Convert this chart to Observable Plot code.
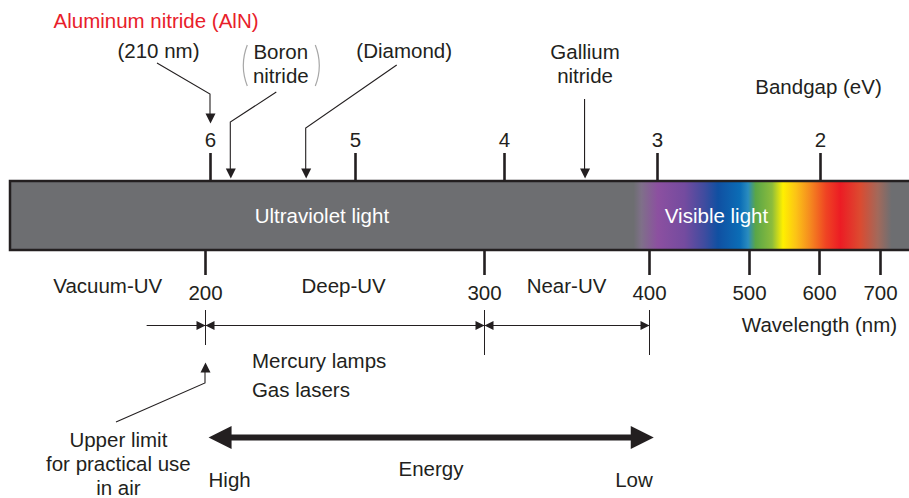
<!DOCTYPE html>
<html>
<head>
<meta charset="utf-8">
<script src="https://cdn.jsdelivr.net/npm/d3@7"></script>
<script src="https://cdn.jsdelivr.net/npm/@observablehq/plot@0.6"></script>
<style>
  html, body { margin: 0; padding: 0; background: #ffffff; }
  #chart svg { display: block; }
</style>
</head>
<body>
<div id="chart"></div>
<script>
// ---------------- data ----------------
const bandgapTicks = [6, 5, 4, 3, 2];                    // eV (top axis)
const wavelengthTicks = [200, 300, 400, 500, 600, 700];  // nm (bottom axis)

const alnTitle = "Aluminum nitride (AlN)";
const materialNames = ["(210 nm)", "Boron\nnitride", "(Diamond)", "Gallium\nnitride"];
const materialBandgapEV = [6.0, 5.86, 5.34, 3.5];        // where each arrow points (eV, as drawn)

const uvRegionNames = ["Vacuum-UV", "Deep-UV", "Near-UV"];
const uvRegionLabelNm = [153, 244, 343];
const uvBoundaryNm = [200, 300, 400];
const vacuumUVStartNm = 169;

const bandNames = ["Ultraviolet light", "Visible light"];
const bandLabelNm = [237, 465];
const bandExtentNm = [124, 750];

const spectrumStopNm = [388, 394, 414, 436, 454, 467, 490, 499, 508, 529, 544, 563, 585, 627, 645, 671, 697, 718];
const spectrumStopColor = ["#6d6e71", "#7f7089", "#8c50a0", "#744b9f", "#3f4c9f", "#1050a2", "#0b6db6", "#2a8cbf",
  "#5aa647", "#8cbc3c", "#fff000", "#fcc316", "#f58a1f", "#ef4423", "#ec1c24", "#dc4a30", "#a2695b", "#6d6e71"];

const sourceNotes = ["Mercury lamps", "Gas lasers"];
const sourceNoteNm = 217;

const upperLimitText = "Upper limit\nfor practical use\nin air";
const upperLimitNm = 200;
const upperLimitLabelNm = 157;

const energyArrowNm = [204, 407];
const energyLabels = ["High", "Energy", "Low"];
const energyLabelNm = [204, 276, 407];

const axisTitles = ["Bandgap (eV)", "Wavelength (nm)"];

// ---------------- helpers / layout ----------------
const eV = nm => 1240 / nm;
const INK = "#231f20";
const RED = "#e8202a";

// schematic (piecewise) horizontal scale in photon energy, anchored at the labelled ticks
const scaleStops = [
  [10, 10], [eV(200), 205], [6, 210], [5, 355], [eV(300), 484], [4, 504],
  [eV(400), 649], [3, 657], [eV(500), 749], [eV(600), 819], [2, 820], [eV(700), 880]
];

const Y = {
  title: 27.5, matLabel: [57.5, 82, 57.5, 82], bandgapTitle: 93,
  topTickLabel: 146, topTickTop: 153, barTop: 181, barBottom: 250, bandLabel: 222,
  bottomTickEnd: 275, regionLabel: 292, wlTickLabel: 299, wlTitle: 331.5,
  dimTop: 310, dimBottom: 355, dimBottom200: 345, dimLine: 325, source: [367, 396.5],
  upperLimit: 494.5, energyArrow: 437, energyLabel: 475, energyEnds: 486
};
const labelDx = [-52, 50, 98, 0];
const leaderPts = [
  [[-53, 63], [0, 94], [0, 114]],
  [[46, 92], [0, 122], [0, 169]],
  [[91, 65], [0, 128], [0, 169]],
  [[0, 99], [0, 169]]
];
const leaderTip = [123, 178, 178, 178];
const energyAnchor = ["start", "middle", "end"];

// arrowhead symbol: tip at origin, pointing up
const headSymbol = {
  draw(ctx, size) {
    const r = Math.sqrt(size / Math.PI);
    ctx.moveTo(0, 0);
    ctx.lineTo(r, 2 * r);
    ctx.lineTo(-r, 2 * r);
    ctx.closePath();
  }
};

const leaderHeads = materialBandgapEV.map((E, i) => ({E, y: leaderTip[i], rotate: 180}))
  .concat([{E: eV(upperLimitNm), y: 362, rotate: 0}]);

const dimSpans = [[vacuumUVStartNm, uvBoundaryNm[0]], [uvBoundaryNm[0], uvBoundaryNm[1]], [uvBoundaryNm[1], uvBoundaryNm[2]]];
const dimHeads = [];
dimSpans.forEach(([a, b], i) => {
  if (i > 0) dimHeads.push({E: eV(a), rotate: -90});
  dimHeads.push({E: eV(b), rotate: 90});
});

const energyHeads = [{E: eV(energyArrowNm[0]), rotate: -90}, {E: eV(energyArrowNm[1]), rotate: 90}];

function overlay(index, scales, values, dimensions) {
  const x = scales.x;
  const g = d3.create("svg:g");
  const grad = g.append("defs").append("linearGradient")
    .attr("id", "spectrum").attr("gradientUnits", "userSpaceOnUse")
    .attr("x1", 0).attr("x2", dimensions.width).attr("y1", 0).attr("y2", 0);
  spectrumStopNm.forEach((nm, i) => {
    grad.append("stop").attr("offset", x(eV(nm)) / dimensions.width).attr("stop-color", spectrumStopColor[i]);
  });
  const line = d3.line();
  materialBandgapEV.forEach((E, i) => {
    g.append("path")
      .attr("d", line(leaderPts[i].map(([dx, y]) => [x(E) + dx, y])))
      .attr("fill", "none").attr("stroke", INK).attr("stroke-width", 1.1);
  });
  // upper-limit leader
  const xu = x(eV(upperLimitNm));
  g.append("path").attr("d", line([[xu - 89, 422], [xu, 383], [xu, 371]]))
    .attr("fill", "none").attr("stroke", INK).attr("stroke-width", 1.1);
  // thin parentheses around "Boron nitride"
  const xc = x(materialBandgapEV[1]) + labelDx[1];
  g.append("path").attr("d", `M${xc - 33},45Q${xc - 41},65.5 ${xc - 33},86M${xc + 35},45Q${xc + 43},65.5 ${xc + 35},86`)
    .attr("fill", "none").attr("stroke", "#a7a7a7").attr("stroke-width", 1.2);
  return g.node();
}

const materialLabelMarks = materialNames.map((name, i) =>
  Plot.text([name], {x: materialBandgapEV[i], y: Y.matLabel[i], dx: labelDx[i], text: d => d,
    fill: INK, lineAnchor: "bottom", lineHeight: 1.17}));

const energyLabelMarks = energyLabels.map((label, i) =>
  Plot.text([label], {x: eV(energyLabelNm[i]), y: i === 1 ? Y.energyLabel : Y.energyEnds, text: d => d,
    fill: INK, lineAnchor: "bottom", textAnchor: energyAnchor[i], dx: i === 2 ? -1 : 0}));

const chart = Plot.plot({
  width: 909,
  height: 498,
  margin: 0,
  axis: null,
  style: {fontFamily: "'Liberation Sans', Arial, Helvetica, sans-serif", fontSize: "20.5px", color: INK, background: "#ffffff"},
  x: {type: "linear", domain: scaleStops.map(d => d[0]), range: scaleStops.map(d => d[1])},
  y: {type: "identity"},
  marks: [
    // spectrum bar
    Plot.rect([bandExtentNm], {x1: d => eV(d[0]), x2: d => eV(d[1]), y1: Y.barTop, y2: Y.barBottom,
      fill: "url(#spectrum)", stroke: INK, strokeWidth: 2.5}),
    Plot.text(bandNames, {x: (d, i) => eV(bandLabelNm[i]), y: Y.bandLabel, text: d => d, fill: "#ffffff", lineAnchor: "bottom"}),

    // top bandgap axis
    Plot.ruleX(bandgapTicks, {x: d => d, y1: Y.topTickTop, y2: Y.barTop, stroke: INK, strokeWidth: 2.6}),
    Plot.text(bandgapTicks, {x: d => d, y: Y.topTickLabel, text: d => String(d), fill: INK, lineAnchor: "bottom"}),
    Plot.text([axisTitles[0]], {x: 2, y: Y.bandgapTitle, text: d => d, fill: INK, lineAnchor: "bottom", dx: -2}),

    // bottom wavelength axis
    Plot.ruleX(wavelengthTicks, {x: d => eV(d), y1: Y.barBottom, y2: Y.bottomTickEnd, stroke: INK, strokeWidth: 2.6}),
    Plot.text(wavelengthTicks, {x: d => eV(d), y: Y.wlTickLabel, text: d => String(d), fill: INK, lineAnchor: "bottom"}),
    Plot.text([axisTitles[1]], {x: eV(600), y: Y.wlTitle, text: d => d, fill: INK, lineAnchor: "bottom"}),
    Plot.text(uvRegionNames, {x: (d, i) => eV(uvRegionLabelNm[i]), y: Y.regionLabel, text: d => d, fill: INK, lineAnchor: "bottom"}),

    // materials
    ...materialLabelMarks,
    Plot.text([alnTitle], {x: materialBandgapEV[0], y: Y.title, text: d => d, fill: RED, textAnchor: "start", lineAnchor: "bottom", dx: -157}),
    Plot.dot(leaderHeads, {x: "E", y: "y", rotate: "rotate", symbol: headSymbol, r: 5, fill: INK, stroke: "none"}),

    // UV range dimension lines
    Plot.ruleX(uvBoundaryNm, {x: d => eV(d), y1: Y.dimTop, y2: d => (d === upperLimitNm ? Y.dimBottom200 : Y.dimBottom), stroke: INK, strokeWidth: 1}),
    Plot.ruleY(dimSpans, {x1: d => eV(d[0]), x2: d => eV(d[1]), y: Y.dimLine, stroke: INK, strokeWidth: 1}),
    Plot.dot(dimHeads, {x: "E", y: Y.dimLine, rotate: "rotate", symbol: headSymbol, r: 4.5, fill: INK, stroke: "none"}),
    Plot.text(sourceNotes, {x: eV(sourceNoteNm), y: (d, i) => Y.source[i], text: d => d, fill: INK, textAnchor: "start", lineAnchor: "bottom"}),
    Plot.text([upperLimitText], {x: eV(upperLimitLabelNm), y: Y.upperLimit, text: d => d, fill: INK, lineAnchor: "bottom", lineHeight: 1.18}),

    // energy arrow
    Plot.ruleY([energyArrowNm], {x1: d => eV(d[0]), x2: d => eV(d[1]), y: Y.energyArrow, stroke: INK, strokeWidth: 6, inset: 15}),
    Plot.dot(energyHeads, {x: "E", y: Y.energyArrow, rotate: "rotate", symbol: headSymbol, r: 11.5, fill: INK, stroke: "none"}),
    ...energyLabelMarks,

    overlay
  ]
});

document.getElementById("chart").append(chart);
</script>
</body>
</html>
